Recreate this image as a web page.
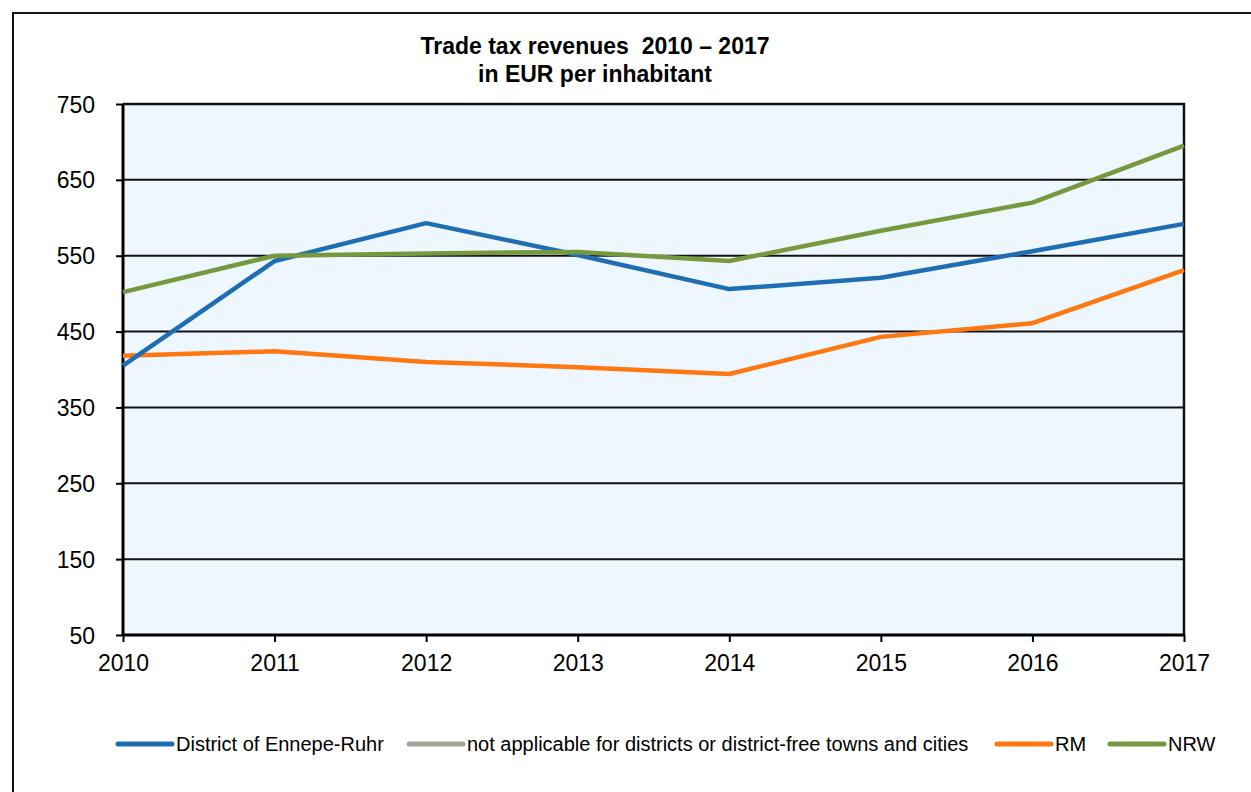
<!DOCTYPE html>
<html lang="en">
  <head>
    <meta charset="UTF-8" />
    <title>trade tax revenues</title>
    <style type="text/css">
      html,
      body {
        margin: 0;
        padding: 0;
        background: #fff;
        font-family: "Liberation Sans", Arial, sans-serif;
      }
      svg {
        display: block;
      }
    </style>
  </head>
  <body>
    <div id="chart"></div>
    <script src="https://cdn.jsdelivr.net/npm/d3@7"></script>
    <script>
      // === Data === //

      var years = [2010, 2011, 2012, 2013, 2014, 2015, 2016, 2017];
      var yTicks = [50, 150, 250, 350, 450, 550, 650, 750];

      var seriesNames = [
        "District of Ennepe-Ruhr",
        "not applicable for districts or district-free towns and cities",
        "RM",
        "NRW"
      ];
      var seriesColours = ["#1f6eb4", "#a5a795", "#ff7710", "#76983e"];

      var ennepeRuhr = [405, 543, 593, 551, 506, 521, 556, 592];
      var notApplicable = []; // no values, legend only
      var rm = [418, 424, 410, 403, 394, 443, 461, 531];
      var nrw = [502, 550, 553, 555, 543, 583, 620, 695];

      var seriesValues = [ennepeRuhr, notApplicable, rm, nrw];

      // === Layout === //

      var width = 1251,
        height = 792;
      var plot = { left: 123, top: 104, right: 1184, bottom: 635 };

      var svg = d3
        .select("#chart")
        .append("svg")
        .attr("width", width)
        .attr("height", height);

      // outer frame (runs off the right and bottom edge)
      svg
        .append("rect")
        .attr("x", 13)
        .attr("y", 13)
        .attr("width", width + 20)
        .attr("height", height + 20)
        .attr("fill", "#fff")
        .attr("stroke", "#111")
        .attr("stroke-width", 2);

      var x = d3
        .scalePoint()
        .domain(years)
        .range([plot.left, plot.right]);

      var y = d3
        .scaleLinear()
        .domain([50, 750])
        .range([plot.bottom, plot.top]);

      // plot background
      svg
        .append("rect")
        .attr("x", plot.left)
        .attr("y", plot.top)
        .attr("width", plot.right - plot.left)
        .attr("height", plot.bottom - plot.top)
        .attr("fill", "#eef6fe");

      // gridlines
      svg
        .append("g")
        .selectAll("line")
        .data(yTicks.slice(1))
        .join("line")
        .attr("x1", plot.left)
        .attr("x2", plot.right)
        .attr("y1", function(d) {
          return y(d);
        })
        .attr("y2", function(d) {
          return y(d);
        })
        .attr("stroke", "#111")
        .attr("stroke-width", 2);

      // right frame of plot
      svg
        .append("line")
        .attr("x1", plot.right)
        .attr("x2", plot.right)
        .attr("y1", plot.top - 1)
        .attr("y2", plot.bottom)
        .attr("stroke", "#111")
        .attr("stroke-width", 2.5);

      // === Axes === //

      var yAxis = svg
        .append("g")
        .attr("transform", "translate(" + plot.left + ",0)")
        .call(
          d3
            .axisLeft(y)
            .tickValues(yTicks)
            .tickSize(7)
            .tickPadding(21)
            .tickFormat(d3.format("d"))
        );

      var xAxis = svg
        .append("g")
        .attr("transform", "translate(0," + plot.bottom + ")")
        .call(
          d3
            .axisBottom(x)
            .tickSize(7)
            .tickPadding(13)
            .tickFormat(d3.format("d"))
        );

      [yAxis, xAxis].forEach(function(g) {
        g.attr("font-size", null).attr("font-family", null);
        g.select(".domain")
          .attr("stroke", "#000")
          .attr("stroke-width", 3);
        g.selectAll(".tick line")
          .attr("stroke", "#000")
          .attr("stroke-width", 2);
        g.selectAll("text")
          .attr("fill", "#000")
          .style("font-family", "'Liberation Sans', Arial, sans-serif")
          .style("font-size", "23px");
      });
      yAxis.select(".domain").attr("d", "M0," + plot.bottom + "V" + plot.top);
      xAxis.select(".domain").attr("d", "M" + plot.left + ",0H" + plot.right);
      yAxis.selectAll("text").attr("dy", "0.35em");

      // === Lines === //

      var line = d3
        .line()
        .x(function(d, i) {
          return x(years[i]);
        })
        .y(function(d) {
          return y(d);
        });

      // draw order: RM, Ennepe-Ruhr, NRW on top
      [2, 0, 3].forEach(function(s) {
        if (!seriesValues[s].length) return;
        svg
          .append("path")
          .datum(seriesValues[s])
          .attr("d", line)
          .attr("fill", "none")
          .attr("stroke", seriesColours[s])
          .attr("stroke-width", 4.5)
          .attr("stroke-linejoin", "round");
      });

      // redraw plot top border above lines
      svg
        .append("line")
        .attr("x1", plot.left)
        .attr("x2", plot.right + 1)
        .attr("y1", plot.top)
        .attr("y2", plot.top)
        .attr("stroke", "#111")
        .attr("stroke-width", 2.5);

      // === Title === //

      var title = svg
        .append("text")
        .attr("x", 595)
        .attr("y", 54)
        .attr("text-anchor", "middle")
        .style("font-size", "23px")
        .style("font-weight", "bold");
      title.append("tspan").attr("x", 595).text("Trade tax revenues \u00a02010 \u2013 2017");
      title
        .append("tspan")
        .attr("x", 595)
        .attr("dy", 28)
        .text("in EUR per inhabitant");

      // === Legend === //

      var legendX = [117, 408, 996, 1109];
      var legendY = 744;

      var legend = svg
        .append("g")
        .selectAll("g")
        .data(seriesNames)
        .join("g")
        .attr("transform", function(d, i) {
          return "translate(" + legendX[i] + "," + legendY + ")";
        });

      legend
        .append("line")
        .attr("x1", 1)
        .attr("x2", 55)
        .attr("stroke", function(d, i) {
          return seriesColours[i];
        })
        .attr("stroke-width", 5)
        .attr("stroke-linecap", "round");

      legend
        .append("text")
        .attr("x", 59)
        .attr("dy", "0.35em")
        .style("font-size", "20px")
        .attr("fill", "#000")
        .text(function(d) {
          return d;
        });
    </script>
  </body>
</html>
